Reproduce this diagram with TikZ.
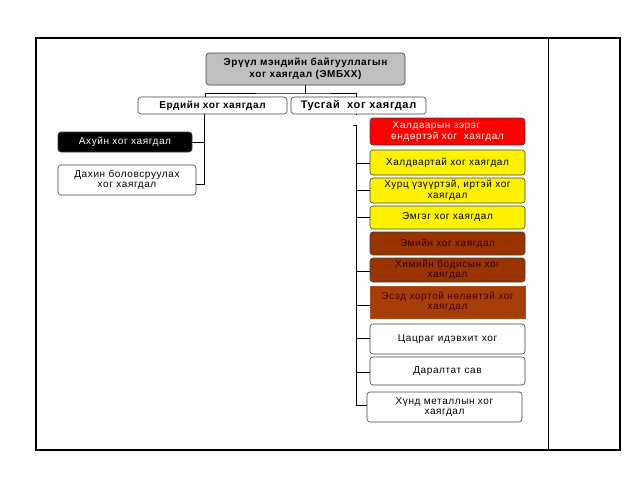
\documentclass[tikz,border=0pt]{standalone}
\usepackage{fontspec}
\setmainfont{Liberation Sans}[LetterSpace=6]
\begin{document}
\begin{tikzpicture}[x=1pt,y=-1pt,
  box/.style={draw=black!75,line width=0.6pt,rounded corners=3pt,align=center,inner sep=0pt,
    font=\fontsize{10}{10.5}\selectfont},
  rbox/.style={box,minimum width=155pt},
  conn/.style={draw=black,line width=0.6pt}]
\useasboundingbox (0,0) rectangle (638,479);
\draw[line width=1.2pt] (36,38) rectangle (620,450);
\draw[line width=1pt] (548,38) -- (548,450);
% top
\node[box,fill=black!25,minimum width=199pt,minimum height=32pt,font=\bfseries\fontsize{10}{11.5}\selectfont] (top) at (305.5,69) {Эрүүл мэндийн байгууллагын\\хог хаягдал (ЭМБХХ)};
\node[box,minimum width=149pt,minimum height=17pt,font=\bfseries\fontsize{10}{10}\selectfont] (erd) at (212.5,105.5) {Ердийн хог хаягдал};
\node[box,minimum width=135pt,minimum height=17pt,font=\bfseries\fontsize{11}{11}\selectfont] (tus) at (358.5,105.5) {Тусгай\ \ хог хаягдал};
\coordinate (j) at (305.5,93);
\draw[conn] (top.south) -- (j);
\draw[conn] (205,97) |- (j) -| (356,97);
% left
\node[box,fill=black,text=white,minimum width=134pt,minimum height=20pt] (ahu) at (125,142) {Ахуйн хог хаягдал};
\node[box,fill=white,minimum width=138pt,minimum height=30pt] (dah) at (127,180) {Дахин боловсруулах\\хог хаягдал};
\coordinate (lt) at (204,114);
\draw[conn] (erd.south -| lt) -- (204,184) -- (dah.east |- 0,184);
\draw[conn] (204,142) -- (ahu.east);
% right
\node[rbox,fill=red,minimum height=27pt,text=white!90!yellow] (r1) at (447.5,131.5) {Халдварын зэрэг\hspace*{22pt}\\өндөртэй хог\ \ хаягдал};
\node[rbox,fill=yellow,minimum height=25pt] (y1) at (447.5,162.5) {Халдвартай хог хаягдал};
\node[rbox,fill=yellow,minimum height=25pt] (y2) at (447.5,190.5) {Хурц үзүүртэй, иртэй хог\\хаягдал};
\node[rbox,fill=yellow,minimum height=23pt] (y3) at (447.5,217.5) {Эмгэг хог хаягдал};
\node[rbox,fill={rgb,255:red,153;green,51;blue,0},minimum height=23pt,text=black!80!red] (b1) at (447.5,243.5) {Эмийн хог хаягдал};
\node[rbox,fill={rgb,255:red,153;green,51;blue,0},minimum height=24pt,text=black!80!red] (b2) at (447.5,270) {Химийн бодисын хог\\хаягдал};
\node[rbox,rounded corners=0pt,draw={rgb,255:red,170;green,80;blue,30},fill={rgb,255:red,166;green,62;blue,10},minimum height=32pt,text=black!70!red] (b3) at (447.5,302) {Эсэд хортой нөлөөтэй хог\\хаягдал};
\node[rbox,fill=white,minimum height=30pt] (w1) at (447.5,339) {\raisebox{-4pt}{Цацраг идэвхит хог}};
\node[rbox,fill=white,minimum height=28pt] (w2) at (447.5,371) {Даралтат сав};
\node[rbox,fill=white,minimum height=30pt] (w3) at (444.5,407) {Хүнд металлын хог\\хаягдал};
\coordinate (rt) at (356,123);
\draw[conn] (tus.south -| rt) -- (356,114);
\draw[conn] (353,125) -- (356,125) -- (356,405) -- (w3.west |- 0,405);
\foreach \n/\yy in {y1/163,y2/190,y3/217,b2/271,b3/305,w1/338,w2/372}
  \draw[conn] (356,\yy) -- (\n.west |- 0,\yy);
\end{tikzpicture}
\end{document}
